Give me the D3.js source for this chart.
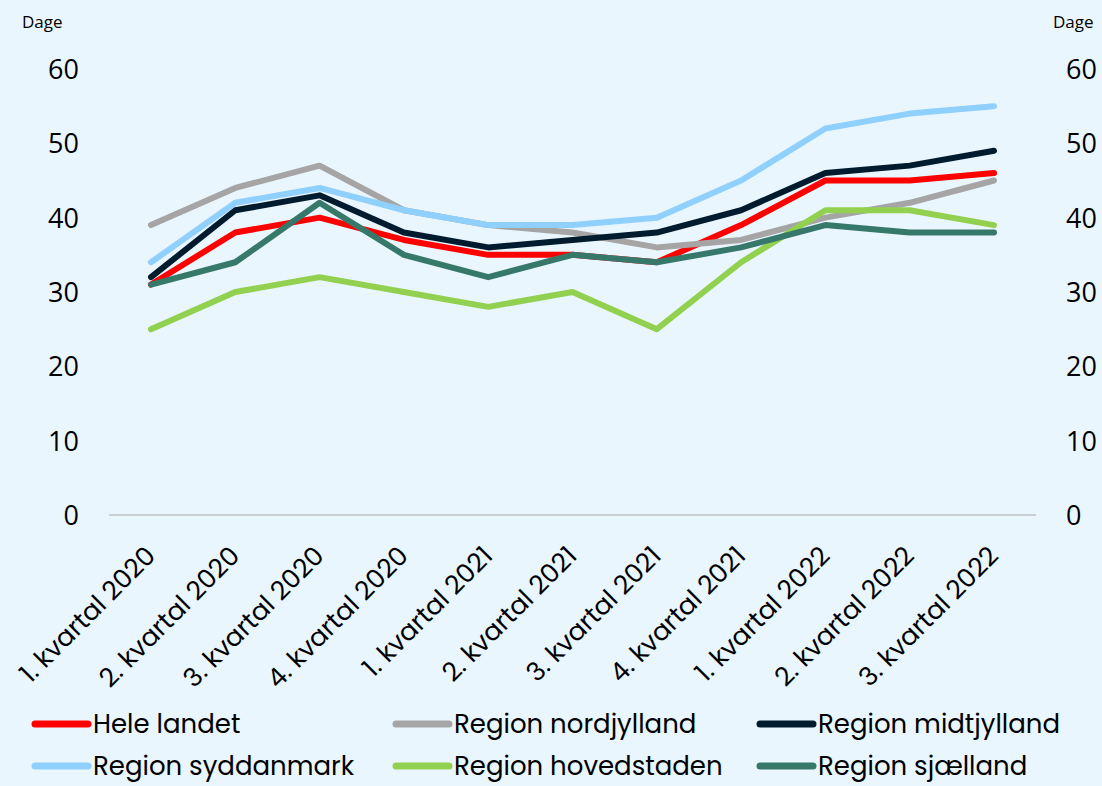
<!DOCTYPE html>
<html><head><meta charset="utf-8">
<script src="https://cdn.jsdelivr.net/npm/d3@7"></script>
<style>
html,body{margin:0;padding:0;background:#EAF6FE;}
svg{display:block;}
</style></head>
<body>
<svg id="c" width="1102" height="786"></svg>
<script>
const categories = ["1. kvartal 2020","2. kvartal 2020","3. kvartal 2020","4. kvartal 2020","1. kvartal 2021","2. kvartal 2021","3. kvartal 2021","4. kvartal 2021","1. kvartal 2022","2. kvartal 2022","3. kvartal 2022"];
const seriesNames = ["Hele landet","Region nordjylland","Region midtjylland","Region syddanmark","Region hovedstaden","Region sjælland"];
const heleLandet   = [31,38,40,37,35,35,34,39,45,45,46];
const nordjylland  = [39,44,47,41,39,38,36,37,40,42,45];
const midtjylland  = [32,41,43,38,36,37,38,41,46,47,49];
const syddanmark   = [34,42,44,41,39,39,40,45,52,54,55];
const hovedstaden  = [25,30,32,30,28,30,25,34,41,41,39];
const sjaelland    = [31,34,42,35,32,35,34,36,39,38,38];
const seriesValues = [heleLandet,nordjylland,midtjylland,syddanmark,hovedstaden,sjaelland];
const colors = ["#FF0000","#A5A5A5","#001B2E","#8FD0FF","#92D050","#36796B"];
const yTicks = [0,10,20,30,40,50,60];
const yLabel = "Dage";

const svg = d3.select("#c");
const x = d3.scalePoint().domain(categories).range([151,994]);
const y = d3.scaleLinear().domain([0,60]).range([515,69]);

const geoFont = "Poppins, Lato, sans-serif";
const numFont = "'Open Sans', 'Liberation Sans', sans-serif";

// baseline
svg.append("line").attr("x1",109).attr("x2",1036).attr("y1",y(0)).attr("y2",y(0))
  .attr("stroke","#A6A6A6").attr("stroke-width",1);

// y axes
const yl = d3.axisLeft(y).tickValues(yTicks).tickSize(0).tickPadding(0);
svg.append("g").attr("transform","translate(79,0)").call(yl)
  .call(g=>g.select(".domain").remove())
  .selectAll("text").attr("font-family",numFont).attr("font-size",27).attr("fill","#000").attr("dy","0.35em");
const yr = d3.axisRight(y).tickValues(yTicks).tickSize(0).tickPadding(0);
svg.append("g").attr("transform","translate(1066,0)").call(yr)
  .call(g=>g.select(".domain").remove())
  .selectAll("text").attr("font-family",numFont).attr("font-size",27).attr("fill","#000").attr("dy","0.35em");

svg.append("text").attr("x",22).attr("y",28).text(yLabel)
  .attr("font-family",numFont).attr("font-size",17);
svg.append("text").attr("x",1053).attr("y",28).text(yLabel)
  .attr("font-family",numFont).attr("font-size",17);

// x axis labels
const xa = d3.axisBottom(x).tickSize(0).tickPadding(0);
const gx = svg.append("g").attr("transform",`translate(0,${y(0)})`).call(xa);
gx.select(".domain").remove();
gx.selectAll("text")
  .attr("font-family",geoFont).attr("font-size",26).attr("fill","#000")
  .attr("text-anchor","end")
  .attr("transform","translate(-1,36) rotate(-45)")
  .attr("dy","0.35em").attr("y",0);

// lines
const line = d3.line().x((d,i)=>x(categories[i])).y(d=>y(d));
seriesValues.forEach((vals,k)=>{
  svg.append("path").datum(vals).attr("d",line)
    .attr("fill","none").attr("stroke",colors[k]).attr("stroke-width",6)
    .attr("stroke-linecap","round").attr("stroke-linejoin","round");
});

// legend
const colX = [32,393,757];
const rowY = [724,766];
seriesNames.forEach((n,k)=>{
  const cx = colX[k%3], cy = rowY[Math.floor(k/3)];
  svg.append("line").attr("x1",cx+3).attr("x2",cx+56).attr("y1",cy).attr("y2",cy)
    .attr("stroke",colors[k]).attr("stroke-width",7).attr("stroke-linecap","round");
  svg.append("text").attr("x",cx+61).attr("y",cy).attr("dy","0.35em").text(n)
    .attr("font-family",geoFont).attr("font-size",26).attr("fill","#000");
});
</script>
</body></html>
